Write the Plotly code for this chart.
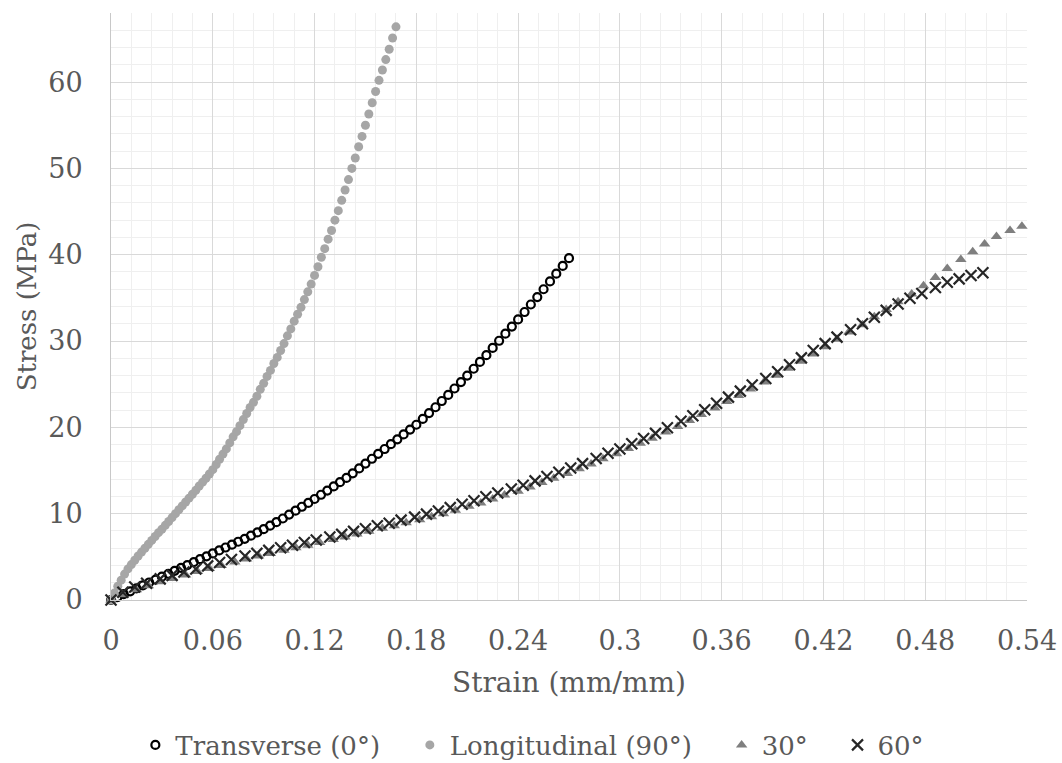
import plotly.graph_objects as go

# Stress-strain data (strain in mm/mm, stress in MPa)
transverse_strain = [
    0.0000, 0.0038, 0.0075, 0.0113, 0.0150, 0.0188, 0.0225, 0.0263, 0.0300, 0.0338,
    0.0375, 0.0413, 0.0450, 0.0488, 0.0525, 0.0563, 0.0600, 0.0638, 0.0675, 0.0713,
    0.0750, 0.0788, 0.0825, 0.0863, 0.0900, 0.0938, 0.0975, 0.1013, 0.1050, 0.1088,
    0.1125, 0.1163, 0.1200, 0.1238, 0.1275, 0.1313, 0.1350, 0.1388, 0.1425, 0.1463,
    0.1500, 0.1538, 0.1575, 0.1613, 0.1650, 0.1688, 0.1725, 0.1763, 0.1800, 0.1838,
    0.1875, 0.1913, 0.1950, 0.1988, 0.2025, 0.2063, 0.2100, 0.2138, 0.2175, 0.2213,
    0.2250, 0.2288, 0.2325, 0.2363, 0.2400, 0.2438, 0.2475, 0.2513, 0.2550, 0.2588,
    0.2625, 0.2663, 0.2700,
]
transverse_stress = [
    0.00, 0.34, 0.68, 1.01, 1.35, 1.69, 2.03, 2.36, 2.70, 3.04,
    3.38, 3.71, 4.05, 4.39, 4.73, 5.06, 5.40, 5.74, 6.08, 6.41,
    6.75, 7.09, 7.45, 7.83, 8.20, 8.61, 9.02, 9.44, 9.90, 10.35,
    10.80, 11.25, 11.70, 12.19, 12.68, 13.16, 13.65, 14.14, 14.68, 15.24,
    15.80, 16.36, 16.93, 17.49, 18.05, 18.61, 19.18, 19.74, 20.30, 20.98,
    21.65, 22.33, 23.05, 23.76, 24.50, 25.25, 26.00, 26.79, 27.58, 28.36,
    29.20, 30.03, 30.85, 31.68, 32.50, 33.36, 34.23, 35.09, 36.00, 36.91,
    37.80, 38.70, 39.60,
]

longitudinal_strain = [
    0.000, 0.002, 0.004, 0.006, 0.008, 0.010, 0.012, 0.014, 0.016, 0.018,
    0.020, 0.022, 0.024, 0.026, 0.028, 0.030, 0.032, 0.034, 0.036, 0.038,
    0.040, 0.042, 0.044, 0.046, 0.048, 0.050, 0.052, 0.054, 0.056, 0.058,
    0.060, 0.062, 0.064, 0.066, 0.068, 0.070, 0.072, 0.074, 0.076, 0.078,
    0.080, 0.082, 0.084, 0.086, 0.088, 0.090, 0.092, 0.094, 0.096, 0.098,
    0.100, 0.102, 0.104, 0.106, 0.108, 0.110, 0.112, 0.114, 0.116, 0.118,
    0.120, 0.122, 0.124, 0.126, 0.128, 0.130, 0.132, 0.134, 0.136, 0.138,
    0.140, 0.142, 0.144, 0.146, 0.148, 0.150, 0.152, 0.154, 0.156, 0.158,
    0.160, 0.162, 0.164, 0.166, 0.168,
]
longitudinal_stress = [
    0.0, 0.8, 1.6, 2.3, 3.0, 3.6, 4.1, 4.6, 5.1, 5.55,
    6.0, 6.45, 6.9, 7.35, 7.8, 8.2, 8.65, 9.1, 9.55, 10.0,
    10.45, 10.9, 11.35, 11.8, 12.25, 12.7, 13.2, 13.65, 14.1, 14.6,
    15.1, 15.7, 16.3, 16.9, 17.5, 18.2, 18.9, 19.5, 20.2, 20.9,
    21.6, 22.3, 22.9, 23.6, 24.4, 25.1, 25.9, 26.6, 27.4, 28.1,
    28.9, 29.7, 30.6, 31.4, 32.3, 33.1, 33.9, 34.8, 35.7, 36.6,
    37.6, 38.6, 39.7, 40.7, 41.8, 42.8, 44.0, 45.1, 46.3, 47.5,
    48.7, 50.0, 51.2, 52.5, 53.7, 55.0, 56.3, 57.6, 58.9, 60.2,
    61.4, 62.6, 63.8, 65.1, 66.4,
]

deg30_strain = [
    0.000, 0.007, 0.015, 0.022, 0.029, 0.036, 0.044, 0.051, 0.058, 0.065,
    0.073, 0.080, 0.087, 0.094, 0.102, 0.109, 0.116, 0.123, 0.131, 0.138,
    0.145, 0.152, 0.160, 0.167, 0.174, 0.182, 0.189, 0.196, 0.203, 0.211,
    0.218, 0.225, 0.232, 0.240, 0.247, 0.254, 0.261, 0.269, 0.276, 0.283,
    0.290, 0.298, 0.305, 0.312, 0.319, 0.327, 0.334, 0.341, 0.348, 0.356,
    0.363, 0.370, 0.377, 0.385, 0.392, 0.399, 0.406, 0.414, 0.421, 0.428,
    0.435, 0.443, 0.450, 0.457, 0.464, 0.472, 0.479, 0.486, 0.493, 0.501,
    0.508, 0.515, 0.522, 0.530, 0.537,
]
deg30_stress = [
    0.00, 0.60, 1.20, 1.65, 2.10, 2.50, 2.90, 3.30, 3.65, 4.00,
    4.40, 4.75, 5.10, 5.40, 5.75, 6.05, 6.35, 6.65, 7.00, 7.30,
    7.65, 7.95, 8.30, 8.60, 8.95, 9.30, 9.65, 10.00, 10.40, 10.85,
    11.25, 11.70, 12.15, 12.60, 13.10, 13.60, 14.10, 14.65, 15.20, 15.75,
    16.35, 16.95, 17.55, 18.15, 18.75, 19.45, 20.10, 20.80, 21.50, 22.25,
    23.00, 23.70, 24.45, 25.25, 26.05, 26.85, 27.65, 28.50, 29.35, 30.20,
    31.05, 31.90, 32.80, 33.65, 34.55, 35.45, 36.40, 37.35, 38.40, 39.45,
    40.35, 41.25, 42.10, 42.80, 43.30,
]

deg60_strain = [
    0.000, 0.007, 0.014, 0.021, 0.029, 0.036, 0.043, 0.050, 0.057, 0.064,
    0.071, 0.079, 0.086, 0.093, 0.100, 0.107, 0.114, 0.121, 0.129, 0.136,
    0.143, 0.150, 0.157, 0.164, 0.171, 0.179, 0.186, 0.193, 0.200, 0.207,
    0.214, 0.221, 0.228, 0.236, 0.243, 0.250, 0.257, 0.264, 0.271, 0.278,
    0.286, 0.293, 0.300, 0.307, 0.314, 0.321, 0.328, 0.336, 0.343, 0.350,
    0.357, 0.364, 0.371, 0.378, 0.386, 0.393, 0.400, 0.407, 0.414, 0.421,
    0.428, 0.436, 0.443, 0.450, 0.457, 0.464, 0.471, 0.478, 0.486, 0.493,
    0.500, 0.507, 0.514,
]
deg60_stress = [
    0.00, 0.90, 1.50, 1.95, 2.45, 2.85, 3.25, 3.60, 3.95, 4.35,
    4.70, 5.10, 5.40, 5.75, 6.05, 6.35, 6.65, 6.95, 7.30, 7.60,
    7.95, 8.25, 8.60, 8.90, 9.25, 9.60, 9.95, 10.30, 10.70, 11.10,
    11.50, 11.95, 12.40, 12.85, 13.30, 13.80, 14.30, 14.80, 15.30, 15.80,
    16.40, 17.00, 17.50, 18.10, 18.70, 19.30, 19.95, 20.70, 21.35, 22.05,
    22.80, 23.50, 24.20, 24.90, 25.65, 26.45, 27.25, 28.05, 28.90, 29.70,
    30.45, 31.30, 32.00, 32.75, 33.55, 34.30, 34.95, 35.50, 36.20, 36.80,
    37.20, 37.60, 37.90,
]

x_tick_values = [0, 0.06, 0.12, 0.18, 0.24, 0.30, 0.36, 0.42, 0.48, 0.54]
x_tick_labels = ["0", "0.06", "0.12", "0.18", "0.24", "0.3", "0.36", "0.42", "0.48", "0.54"]
y_tick_values = [0, 10, 20, 30, 40, 50, 60]
y_tick_labels = ["0", "10", "20", "30", "40", "50", "60"]

FONT = "DejaVu Serif"
TEXT_GREY = "#595959"
GAP = "\u00a0\u00a0\u00a0"  # extra spacing after each legend entry

fig = go.Figure()

fig.add_trace(go.Scatter(
    x=transverse_strain, y=transverse_stress, mode="markers",
    name="Transverse (0°)" + GAP, cliponaxis=False,
    marker=dict(symbol="circle-open", size=8, color="#000000",
                line=dict(width=2.2, color="#000000")),
))
fig.add_trace(go.Scatter(
    x=longitudinal_strain, y=longitudinal_stress, mode="markers",
    name="Longitudinal (90°)" + GAP, cliponaxis=False,
    marker=dict(symbol="circle", size=9, color="#a6a6a6", line=dict(width=0)),
))
fig.add_trace(go.Scatter(
    x=deg30_strain, y=deg30_stress, mode="markers",
    name="30°" + GAP, cliponaxis=False,
    marker=dict(symbol="triangle-up", size=10, color="#7f7f7f", line=dict(width=0)),
))
fig.add_trace(go.Scatter(
    x=deg60_strain, y=deg60_stress, mode="markers",
    name="60°", cliponaxis=False,
    marker=dict(symbol="x-thin-open", size=11, color="#262626",
                line=dict(width=2.2, color="#262626")),
))

fig.update_layout(
    width=1062, height=763,
    margin=dict(l=111, r=35, t=13, b=163, autoexpand=False),
    paper_bgcolor="white", plot_bgcolor="white",
    font=dict(family=FONT, color=TEXT_GREY, size=26),
    legend=dict(
        orientation="h", x=0.46, xanchor="center", y=-0.247, yanchor="middle",
        font=dict(family=FONT, size=26, color=TEXT_GREY),
        itemwidth=30, tracegroupgap=0,
    ),
    showlegend=True,
)

fig.update_xaxes(
    range=[0, 0.54], tickvals=x_tick_values, ticktext=x_tick_labels,
    tickfont=dict(family=FONT, size=27, color=TEXT_GREY),
    showgrid=True, gridcolor="#d9d9d9", gridwidth=1,
    minor=dict(dtick=0.012, showgrid=True, gridcolor="#efefef", gridwidth=1),
    showline=True, linecolor="#c8c8c8", linewidth=1,
    zeroline=False, ticks="", ticklabelstandoff=17, automargin=False,
    title=dict(text="Strain (mm/mm)", font=dict(family=FONT, size=28, color=TEXT_GREY),
               standoff=16),
)
fig.update_yaxes(
    range=[0, 68], tickvals=y_tick_values, ticktext=y_tick_labels,
    tickfont=dict(family=FONT, size=27, color=TEXT_GREY),
    showgrid=True, gridcolor="#d9d9d9", gridwidth=1,
    minor=dict(dtick=2, showgrid=True, gridcolor="#efefef", gridwidth=1),
    showline=True, linecolor="#c8c8c8", linewidth=1,
    zeroline=False, ticks="", ticklabelstandoff=22, automargin=False,
    title=dict(text="Stress (MPa)", font=dict(family=FONT, size=26, color=TEXT_GREY),
               standoff=4),
)

fig.write_html("out.html")
